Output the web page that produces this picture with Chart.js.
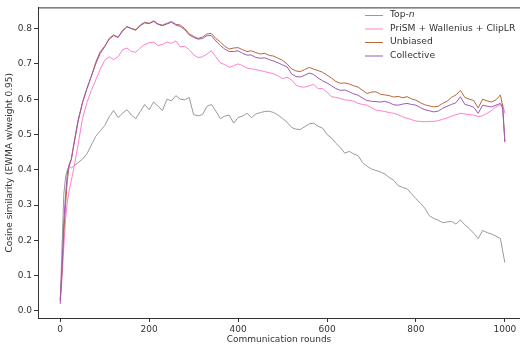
<!DOCTYPE html>
<html>
<head>
<meta charset="utf-8">
<script src="https://cdn.jsdelivr.net/npm/chart.js@4"></script>
<style>
  html, body { margin: 0; padding: 0; background: #fff; }
  #wrap { width: 520px; height: 348px; }
</style>
</head>
<body>
<div id="wrap"><canvas id="chart" width="520" height="348"></canvas></div>
<script>
// ── Data ────────────────────────────────────────────────────────────────────
const rounds = [0, 4, 8, 12, 16, 20, 25, 30, 40, 50, 60, 70, 80, 90, 100,
  110, 120, 130, 140, 150, 160, 170, 180, 190, 200, 210, 220, 230, 240, 250,
  260, 270, 280, 290, 300, 310, 320, 330, 340, 350, 360, 370, 380, 390, 400,
  410, 420, 430, 440, 450, 460, 470, 480, 490, 500, 510, 520, 530, 540, 550,
  560, 570, 580, 590, 600, 610, 620, 630, 640, 650, 660, 670, 680, 690, 700,
  710, 720, 730, 740, 750, 760, 770, 780, 790, 800, 810, 820, 830, 840, 850,
  860, 870, 880, 890, 900, 910, 920, 930, 940, 950, 960, 970, 980, 990, 995, 1000];

const topN = [0.03, 0.18, 0.33, 0.38, 0.40, 0.41, 0.405, 0.41, 0.42, 0.43, 0.445, 0.47, 0.495, 0.51, 0.525,
  0.55, 0.568, 0.548, 0.56, 0.57, 0.555, 0.545, 0.565, 0.585, 0.57, 0.592, 0.58, 0.568, 0.60, 0.595,
  0.61, 0.60, 0.598, 0.605, 0.556, 0.553, 0.556, 0.58, 0.585, 0.566, 0.545, 0.552, 0.555, 0.532, 0.548,
  0.552, 0.56, 0.548, 0.558, 0.562, 0.565, 0.566, 0.562, 0.555, 0.545, 0.535, 0.52, 0.515, 0.514, 0.522,
  0.53, 0.532, 0.523, 0.518, 0.50, 0.49, 0.475, 0.463, 0.447, 0.452, 0.445, 0.44, 0.42, 0.41, 0.402,
  0.398, 0.394, 0.388, 0.378, 0.37, 0.355, 0.35, 0.346, 0.332, 0.318, 0.305, 0.291, 0.27, 0.262, 0.257,
  0.25, 0.252, 0.254, 0.246, 0.258, 0.244, 0.233, 0.22, 0.205, 0.228, 0.222, 0.218, 0.212, 0.205, 0.17, 0.137];

const prism = [0.03, 0.09, 0.18, 0.26, 0.31, 0.34, 0.37, 0.40, 0.47, 0.545, 0.59, 0.625, 0.655, 0.685, 0.71,
  0.72, 0.712, 0.72, 0.74, 0.745, 0.735, 0.733, 0.745, 0.755, 0.76, 0.762, 0.752, 0.755, 0.762, 0.758,
  0.765, 0.748, 0.75, 0.74, 0.726, 0.718, 0.72, 0.728, 0.737, 0.72, 0.703, 0.698, 0.69, 0.695, 0.70,
  0.695, 0.688, 0.686, 0.684, 0.681, 0.678, 0.675, 0.672, 0.666, 0.658, 0.662, 0.655, 0.64, 0.635, 0.634,
  0.638, 0.642, 0.63, 0.63, 0.62, 0.607, 0.605, 0.602, 0.598, 0.597, 0.594, 0.588, 0.585, 0.583, 0.576,
  0.569, 0.567, 0.565, 0.562, 0.56, 0.556, 0.55, 0.546, 0.542, 0.538, 0.537, 0.536, 0.537, 0.537, 0.539,
  0.543, 0.547, 0.552, 0.556, 0.56, 0.558, 0.556, 0.555, 0.551, 0.553, 0.56, 0.568, 0.578, 0.584, 0.585, 0.56];

const unbiased = [0.03, 0.12, 0.22, 0.30, 0.37, 0.41, 0.43, 0.47, 0.54, 0.59, 0.63, 0.665, 0.705, 0.735, 0.75,
  0.77, 0.78, 0.775, 0.795, 0.805, 0.80, 0.797, 0.81, 0.818, 0.815, 0.822, 0.813, 0.81, 0.815, 0.82,
  0.812, 0.81, 0.80, 0.785, 0.778, 0.772, 0.776, 0.785, 0.786, 0.772, 0.762, 0.75, 0.742, 0.745, 0.746,
  0.74, 0.735, 0.737, 0.732, 0.728, 0.73, 0.724, 0.722, 0.716, 0.71, 0.70, 0.686, 0.68, 0.678, 0.684,
  0.69, 0.685, 0.681, 0.676, 0.668, 0.66, 0.65, 0.645, 0.646, 0.643, 0.638, 0.634, 0.625, 0.616, 0.62,
  0.621, 0.614, 0.612, 0.61, 0.606, 0.608, 0.604, 0.607, 0.601, 0.597, 0.59, 0.584, 0.581, 0.578, 0.58,
  0.588, 0.594, 0.605, 0.612, 0.625, 0.605, 0.60, 0.596, 0.575, 0.60, 0.595, 0.592, 0.598, 0.612, 0.58, 0.48];

const collective = [0.02, 0.12, 0.25, 0.33, 0.39, 0.415, 0.43, 0.465, 0.535, 0.59, 0.63, 0.665, 0.70, 0.73, 0.748,
  0.772, 0.782, 0.775, 0.792, 0.806, 0.80, 0.795, 0.808, 0.816, 0.814, 0.82, 0.812, 0.808, 0.813, 0.818,
  0.81, 0.806, 0.797, 0.782, 0.775, 0.77, 0.772, 0.78, 0.78, 0.765, 0.752, 0.742, 0.735, 0.735, 0.737,
  0.73, 0.725, 0.725, 0.718, 0.716, 0.717, 0.712, 0.708, 0.703, 0.697, 0.692, 0.672, 0.664, 0.663, 0.668,
  0.674, 0.67, 0.66, 0.652, 0.646, 0.638, 0.63, 0.625, 0.626, 0.621, 0.615, 0.611, 0.603, 0.596, 0.594,
  0.593, 0.592, 0.594, 0.59, 0.584, 0.583, 0.586, 0.588, 0.585, 0.583, 0.576, 0.57, 0.567, 0.564, 0.566,
  0.574, 0.58, 0.585, 0.59, 0.607, 0.585, 0.582, 0.577, 0.56, 0.583, 0.58, 0.578, 0.583, 0.588, 0.575, 0.478];

const xTicks = [0, 200, 400, 600, 800, 1000];
const yTicks = [0.0, 0.1, 0.2, 0.3, 0.4, 0.5, 0.6, 0.7, 0.8];

// ── Styling ─────────────────────────────────────────────────────────────────
const INK = '#333333';
const FONT = 'DejaVu Sans';

const series = [
  { label: 'Top-n',                      data: topN,       color: '#9a9a9a', order: 4 },
  { label: 'PriSM + Wallenius + ClipLR', data: prism,      color: '#ff7fcc', order: 3 },
  { label: 'Unbiased',                   data: unbiased,   color: '#b5683a', order: 2 },
  { label: 'Collective',                 data: collective, color: '#9b59b6', order: 1 },
];

const toXY = (ys) => rounds.map((r, i) => ({ x: r, y: ys[i] }));

// matplotlib-like frame: top spine + legend without box
const framePlugin = {
  id: 'frame',
  afterDraw(chart) {
    const { ctx, chartArea: a } = chart;
    ctx.save();
    ctx.strokeStyle = INK;
    ctx.lineWidth = 1;
    ctx.beginPath();
    ctx.moveTo(a.left, a.top + 0.5);
    ctx.lineTo(a.right, a.top + 0.5);
    ctx.stroke();

    // legend
    const x0 = 365, x1 = 383, tx = 390;
    let y = 15;
    const f = `9.2px ${FONT}`;
    ctx.font = f;
    ctx.textBaseline = 'middle';
    ctx.fillStyle = INK;
    series.forEach((s) => {
      ctx.strokeStyle = s.color;
      ctx.lineWidth = 1;
      ctx.beginPath();
      ctx.moveTo(x0, y + 0.5);
      ctx.lineTo(x1, y + 0.5);
      ctx.stroke();
      if (s.label === 'Top-n') {
        ctx.fillText('Top-', tx, y);
        const w = ctx.measureText('Top-').width;
        ctx.font = `italic ${f}`;
        ctx.fillText('n', tx + w, y);
        ctx.font = f;
      } else {
        ctx.fillText(s.label, tx, y);
      }
      y += 13.5;
    });
    ctx.restore();
  },
};

// ── Chart ───────────────────────────────────────────────────────────────────
new Chart(document.getElementById('chart'), {
  type: 'line',
  data: {
    datasets: series.map((s) => ({
      label: s.label,
      data: toXY(s.data),
      borderColor: s.color,
      backgroundColor: s.color,
      borderWidth: 1,
      pointRadius: 0,
      tension: 0,
      order: s.order,
    })),
  },
  options: {
    responsive: false, animation: false, devicePixelRatio: 1,
    layout: { padding: { top: 2, right: 0, left: 0, bottom: 0 } },
    plugins: { legend: { display: false }, tooltip: { enabled: false } },
    scales: {
      x: {
        type: 'linear', min: -50, max: 1034,
        afterBuildTicks: (s) => { s.ticks = xTicks.map((v) => ({ value: v })); },
        afterFit: (s) => { s.height = 30; },
        grid: { drawOnChartArea: false, drawTicks: true, tickLength: 4, tickColor: INK },
        border: { display: true, color: INK, width: 1 },
        ticks: { color: INK, font: { family: FONT, size: 9 }, padding: 2, maxRotation: 0,
                 callback: (v) => String(v) },
        title: { display: true, text: 'Communication rounds', color: INK,
                 font: { family: FONT, size: 9 }, padding: { top: 0, bottom: 3 } },
      },
      y: {
        type: 'linear', min: -0.02, max: 0.86,
        afterBuildTicks: (s) => { s.ticks = yTicks.map((v) => ({ value: v })); },
        afterFit: (s) => { s.width = 38; },
        grid: { drawOnChartArea: false, drawTicks: true, tickLength: 4, tickColor: INK },
        border: { display: true, color: INK, width: 1 },
        ticks: { color: INK, font: { family: FONT, size: 9 }, padding: 2,
                 callback: (v) => Number(v).toFixed(1) },
        title: { display: true, text: 'Cosine similarity (EWMA w/weight 0.95)', color: INK,
                 font: { family: FONT, size: 9 }, padding: { top: 4, bottom: 0 } },
      },
    },
  },
  plugins: [framePlugin],
});
</script>
</body>
</html>
